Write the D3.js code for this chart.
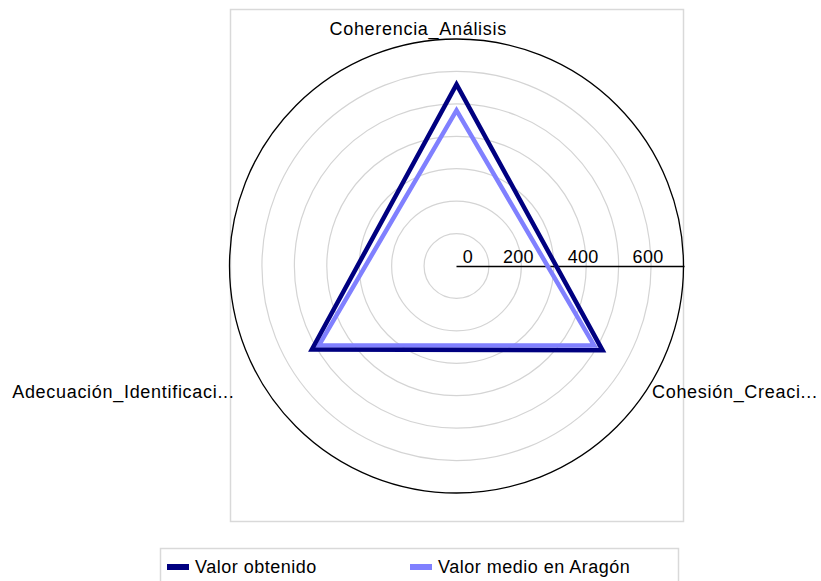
<!DOCTYPE html>
<html>
<head>
<meta charset="utf-8">
<script src="https://cdn.jsdelivr.net/npm/d3@7"></script>
<style>
  body { margin: 0; background: #fff; }
  text { font-family: "Liberation Sans", Arial, sans-serif; fill: #000; }
</style>
</head>
<body>
<div id="chart"></div>
<script>
//Chart data
let axesNames = ["Coherencia_Análisis", "Cohesión_Creaci...", "Adecuación_Identificaci..."];
let seriesNames = ["Valor obtenido", "Valor medio en Aragón"];
let valorObtenido = [560, 520, 515];
let valorMedio = [480, 490, 490];
let gridValues = [100, 200, 300, 400, 500, 600, 700];
let tickLabels = [0, 200, 400, 600];
let seriesColors = ["#000080", "#8080ff"];

//SVG size and the center of the radar
let width = 821,
  height = 581;
let cx = 456.5,
  cy = 266,
  radius = 227;

let svg = d3.select("#chart").append("svg")
  .attr("width", width)
  .attr("height", height);

//Plot frame
svg.append("rect")
  .attr("x", 230.5).attr("y", 9.5)
  .attr("width", 453).attr("height", 512)
  .attr("fill", "none")
  .attr("stroke", "#d9d9d9")
  .attr("stroke-width", 1.5);

let r = d3.scaleLinear().domain([0, 700]).range([0, radius]);
let angle = d3.scalePoint().domain(d3.range(axesNames.length)).range([0, 2 * Math.PI * 2 / 3]);

let g = svg.append("g")
  .attr("transform", "translate(" + cx + "," + cy + ")");

//Grid circles, the last one is the outer edge
g.selectAll(".grid")
  .data(gridValues)
  .enter().append("circle")
  .attr("class", "grid")
  .attr("r", d => r(d))
  .attr("fill", "none")
  .attr("stroke", (d, i) => i === gridValues.length - 1 ? "#000" : "#d4d4d4")
  .attr("stroke-width", (d, i) => i === gridValues.length - 1 ? 1.3 : 1.2);

//Value axis
g.append("line")
  .attr("x1", 0).attr("y1", 0.5)
  .attr("x2", r(700) + 1).attr("y2", 0.5)
  .attr("stroke", "#000")
  .attr("stroke-width", 1.3);

g.selectAll(".tick")
  .data(tickLabels)
  .enter().append("text")
  .attr("class", "tick")
  .attr("x", d => Math.max(r(d) - 3, 11.5))
  .attr("y", -3)
  .attr("text-anchor", "middle")
  .style("font-size", "18px")
  .style("letter-spacing", "0.3px")
  .text(d => d);

//Radar polygons
let line = d3.lineRadial()
  .angle((d, i) => angle(i))
  .radius(d => r(d))
  .curve(d3.curveLinearClosed);

let series = [valorMedio, valorObtenido];
let colors = [seriesColors[1], seriesColors[0]];
g.selectAll(".series")
  .data(series)
  .enter().append("path")
  .attr("class", "series")
  .attr("d", d => line(d))
  .attr("fill", "none")
  .attr("stroke", (d, i) => colors[i])
  .attr("stroke-width", 4.5)
  .attr("stroke-linejoin", "miter");

//Category labels
let labelPos = [
  {x: -127, y: -231, anchor: "start"},
  {x: 195.5, y: 132, anchor: "start"},
  {x: -222, y: 132, anchor: "end"}
];
g.selectAll(".cat")
  .data(axesNames)
  .enter().append("text")
  .attr("class", "cat")
  .attr("x", (d, i) => labelPos[i].x)
  .attr("y", (d, i) => labelPos[i].y)
  .attr("text-anchor", (d, i) => labelPos[i].anchor)
  .style("font-size", "18px")
  .style("letter-spacing", "0.7px")
  .text(d => d);

//Legend
let legend = svg.append("g");
legend.append("rect")
  .attr("x", 160.5).attr("y", 548.5)
  .attr("width", 518).attr("height", 50)
  .attr("fill", "none")
  .attr("stroke", "#d9d9d9")
  .attr("stroke-width", 1.5);

let legendX = [167, 410];
let items = legend.selectAll(".item")
  .data(seriesNames)
  .enter().append("g")
  .attr("class", "item")
  .attr("transform", (d, i) => "translate(" + legendX[i] + ",567)");
items.append("rect")
  .attr("x", 0).attr("y", -3)
  .attr("width", 22).attr("height", 6)
  .attr("fill", (d, i) => seriesColors[i]);
items.append("text")
  .attr("x", 28).attr("y", 6)
  .style("font-size", "18px")
  .style("letter-spacing", "0.5px")
  .text(d => d);
</script>
</body>
</html>
